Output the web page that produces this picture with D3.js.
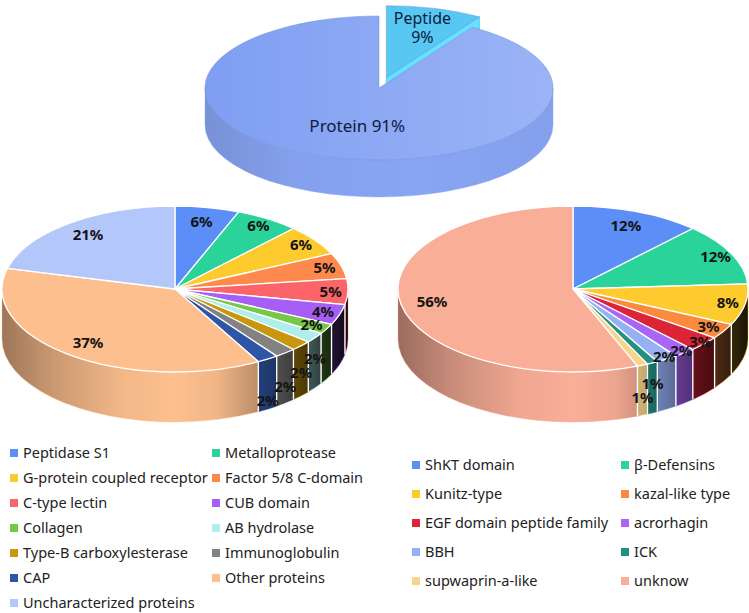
<!DOCTYPE html>
<html>
<head>
<meta charset="utf-8">
<script src="https://cdn.jsdelivr.net/npm/d3@7"></script>
<style>
	body { margin: 0; background: #fff; }
	svg { display: block; font-family: "Noto Sans", "Open Sans", sans-serif; }
	.pct { font-weight: bold; fill: #141414; font-size: 15px; }
	.legend text { font-size: 14.5px; fill: #222; }
</style>
</head>
<body>
<div id="chart"></div>
<script>
// data ///////////////////////////////////////////////////////////////////////
// clockwise from 12 o'clock
var topNames = ['Peptide', 'Protein'];
var topValues = [9, 91];
var topColors = ['#58c8f3', '#88a5f3'];

var proteinNames = ['Peptidase S1', 'Metalloprotease', 'G-protein coupled receptor', 'Factor 5/8 C-domain',
	'C-type lectin', 'CUB domain', 'Collagen', 'AB hydrolase', 'Type-B carboxylesterase', 'Immunoglobulin',
	'CAP', 'Other proteins', 'Uncharacterized proteins'];
var proteinValues = [6, 6, 6, 5, 5, 4, 2, 2, 2, 2, 2, 37, 21];
var proteinColors = ['#5b8ef6', '#2ad39a', '#fdcb2e', '#fd8a4c', '#fb6468', '#a65ef6', '#76c848',
	'#aeefec', '#c8970e', '#828282', '#2f56a6', '#fdbf8e', '#b4c7fb'];

var peptideNames = ['ShKT domain', 'β-Defensins', 'Kunitz-type', 'kazal-like type', 'EGF domain peptide family',
	'acrorhagin', 'BBH', 'ICK', 'supwaprin-a-like', 'unknow'];
var peptideValues = [12, 12, 8, 3, 3, 2, 2, 1, 1, 56];
var peptideColors = ['#5b8ef6', '#2ad39a', '#fdcb2e', '#fb8a3e', '#db2436', '#a865f6', '#96b0f5',
	'#24907f', '#f8d58c', '#f9ae97'];

// setup ///////////////////////////////////////////////////////////////////////
var width = 749, height = 613;
var svg = d3.select('#chart').append('svg')
	.attr('width', width)
	.attr('height', height);
var defs = svg.append('defs');

var pieLayout = d3.pie().sort(null).value(function(d) { return d.value; });

function shadeGradient(id, x0, x1, stops) {
	var grad = defs.append('linearGradient')
		.attr('id', id)
		.attr('gradientUnits', 'userSpaceOnUse')
		.attr('x1', x0).attr('x2', x1).attr('y1', 0).attr('y2', 0);
	stops.forEach(function(s) {
		grad.append('stop').attr('offset', s[0]).attr('stop-color', '#000').attr('stop-opacity', s[1]);
	});
}

function drawPie3d(opts) {
	var g = svg.append('g');
	var data = opts.names.map(function(n, i) { return {name: n, value: opts.values[i], color: opts.colors[i]}; });
	var arcs = pieLayout(data);
	var total = d3.sum(opts.values);
	var rx = opts.rx, ry = opts.ry, depth = opts.depth;

	shadeGradient(opts.id + '-shade', opts.cx - rx, opts.cx + rx, opts.shade);

	arcs.forEach(function(a) {
		var mid = (a.startAngle + a.endAngle) / 2;
		var e = a.index === opts.explode ? opts.explodeBy : 0;
		a.cx = opts.cx + e * rx * Math.sin(mid);
		a.cy = opts.cy - e * ry * Math.cos(mid);
		a.mid = mid;
	});

	function pt(a, ang, k, dy) {
		return [a.cx + k * rx * Math.sin(ang), a.cy - k * ry * Math.cos(ang) + (dy || 0)];
	}

	function topPath(a) {
		var p0 = pt(a, a.startAngle, 1), p1 = pt(a, a.endAngle, 1);
		var large = a.endAngle - a.startAngle > Math.PI ? 1 : 0;
		return 'M' + [a.cx, a.cy] + 'L' + p0 + 'A' + [rx, ry, 0, large, 1] + ' ' + p1 + 'Z';
	}

	// visible outer wall: the front half of the ellipse (pi/2 .. 3pi/2)
	function sidePaths(a) {
		var out = [];
		[[Math.PI / 2, Math.PI], [Math.PI, Math.PI * 1.5]].forEach(function(h) {
			var s = Math.max(a.startAngle, h[0]), e = Math.min(a.endAngle, h[1]);
			if(e - s <= 1e-6) return;
			out.push('M' + pt(a, s, 1) + 'A' + [rx, ry, 0, 0, 1] + ' ' + pt(a, e, 1)
				+ 'L' + pt(a, e, 1, depth) + 'A' + [rx, ry, 0, 0, 0] + ' ' + pt(a, s, 1, depth) + 'Z');
		});
		return out;
	}

	// exploded slices are drawn first, they sit at the back
	var order = arcs.filter(function(a) { return a.index === opts.explode; })
		.concat(arcs.filter(function(a) { return a.index !== opts.explode; }));

	order.forEach(function(a) {
		var sg = g.append('g');
		sidePaths(a).forEach(function(d) {
			sg.append('path').attr('d', d).attr('fill', a.data.color);
			sg.append('path').attr('d', d).attr('fill', 'url(#' + opts.id + '-shade)')
				.attr('stroke', a.data.color).attr('stroke-width', 0.4);
		});
		// wall seam at the slice start
		if(Math.cos(a.startAngle) < -0.02) {
			var s0 = pt(a, a.startAngle, 1);
			sg.append('line')
				.attr('x1', s0[0]).attr('y1', s0[1]).attr('x2', s0[0]).attr('y2', s0[1] + depth)
				.attr('stroke', opts.edge).attr('stroke-width', opts.edgeWidth);
		}
		if(a.index === opts.explode && Math.sin(a.endAngle) > 0) {
			var p = pt(a, a.endAngle, 1);
			sg.append('path')
				.attr('d', 'M' + [a.cx, a.cy] + 'L' + p + 'L' + [p[0], p[1] + depth] + 'L' + [a.cx, a.cy + depth] + 'Z')
				.attr('fill', d3.color(a.data.color).brighter(0.35))
				.attr('stroke', d3.color(a.data.color).darker(0.3)).attr('stroke-width', 0.6);
		}
		sg.append('path')
			.attr('class', 'slice')
			.attr('d', topPath(a))
			.attr('fill', opts.topFill ? opts.topFill(a) : a.data.color)
			.attr('stroke', opts.edge)
			.attr('stroke-width', opts.edgeWidth)
			.attr('stroke-linejoin', 'round');
	});

	if(opts.labels) opts.labels(g, arcs, pt, total);
	return arcs;
}

// percent labels: on top face, small front slices go onto the wall, pushed down when they collide
function pctLabels(sideFrom, depth) {
	return function(g, arcs, pt, total) {
		var placed = [];
		arcs.forEach(function(a) {
			var pct = Math.round(a.data.value / total * 100);
			var front = Math.cos(a.mid) < 0;
			var p;
			if(a.index >= sideFrom && pct <= 2 && front) {
				p = pt(a, a.mid, 1, depth * 0.42);
				placed.forEach(function(q) {
					if(Math.abs(q[0] - p[0]) < 22 && p[1] - q[1] < 14) p[1] = q[1] + 14;
				});
			}
			else {
				var k = Math.cos(a.mid) < -0.55 && Math.sin(a.mid) > 0 ? 0.97 : (Math.sin(a.mid) > 0.5 ? 0.9 : 0.82);
				p = pt(a, a.mid, k);
			}
			placed.push(p);
			g.append('text')
				.attr('class', 'pct')
				.attr('x', p[0])
				.attr('y', p[1])
				.attr('dy', '0.35em')
				.attr('text-anchor', 'middle')
				.text(pct + '%');
		});
	};
}

// top pie ///////////////////////////////////////////////////////////////////////
var protGrad = defs.append('linearGradient').attr('id', 'protTop')
	.attr('x1', 0).attr('x2', 1).attr('y1', 0).attr('y2', 0);
protGrad.append('stop').attr('offset', 0).attr('stop-color', '#7f9ef2');
protGrad.append('stop').attr('offset', 1).attr('stop-color', '#9bb4f6');

drawPie3d({
	id: 'top', names: topNames, values: topValues, colors: topColors,
	cx: 379, cy: 88, rx: 174, ry: 72, depth: 37,
	explode: 0, explodeBy: 0.15,
	edge: '#6f8fe0', edgeWidth: 0.5,
	shade: [[0, 0.12], [0.25, 0.03], [0.6, 0], [1, 0.03]],
	topFill: function(a) { return a.data.name === 'Protein' ? 'url(#protTop)' : a.data.color; },
	labels: function(g, arcs, pt, total) {
		var pep = arcs[0], pro = arcs[1];
		var p = pt(pep, pep.mid, 0.62);
		g.append('text').attr('x', p[0] + 6).attr('y', p[1] - 11)
			.attr('text-anchor', 'middle').attr('fill', '#0c1d3c').style('font-size', '16px')
			.text(pep.data.name);
		g.append('text').attr('x', p[0] + 6).attr('y', p[1] + 8)
			.attr('text-anchor', 'middle').attr('fill', '#0c1d3c').style('font-size', '16px')
			.text(pep.data.value + '%');
		var q = pt(pro, pro.mid, 0.55);
		g.append('text').attr('x', q[0] + 5).attr('y', q[1]).attr('dy', '0.35em')
			.attr('text-anchor', 'middle').attr('fill', '#0c1d3c').style('font-size', '17px')
			.text(pro.data.name + ' ' + pro.data.value + '%');
	}
});

// lower pies /////////////////////////////////////////////////////////////////////
var wallShade = [[0, 0.38], [0.15, 0.2], [0.35, 0.04], [0.5, 0], [0.62, 0.05], [0.75, 0.28], [0.84, 0.52], [0.92, 0.72], [1, 0.9]];

drawPie3d({
	id: 'prot', names: proteinNames, values: proteinValues, colors: proteinColors,
	cx: 175, cy: 289, rx: 173, ry: 83, depth: 50,
	edge: '#fff', edgeWidth: 1.3, shade: wallShade,
	labels: pctLabels(7, 50)
});

drawPie3d({
	id: 'pep', names: peptideNames, values: peptideValues, colors: peptideColors,
	cx: 573, cy: 289, rx: 175, ry: 83, depth: 50,
	edge: '#fff', edgeWidth: 1.3, shade: wallShade,
	labels: pctLabels(7, 50)
});

// legends ///////////////////////////////////////////////////////////////////////
function drawLegend(names, colors, x0, x1, y0, step) {
	var lg = svg.append('g').attr('class', 'legend');
	var items = lg.selectAll('.item')
		.data(names.map(function(n, i) { return {name: n, color: colors[i], i: i}; }))
		.enter().append('g')
		.attr('class', 'item')
		.attr('transform', function(d) {
			return 'translate(' + (d.i % 2 ? x1 : x0) + ',' + (y0 + Math.floor(d.i / 2) * step) + ')';
		});
	items.append('rect')
		.attr('x', 0).attr('y', -4)
		.attr('width', 8).attr('height', 8)
		.attr('fill', function(d) { return d.color; });
	items.append('text')
		.attr('x', 13).attr('y', 0).attr('dy', '0.35em')
		.text(function(d) { return d.name; });
}

drawLegend(proteinNames, proteinColors, 10, 212, 453, 25);
drawLegend(peptideNames, peptideColors, 412, 621, 465, 29);
</script>
</body>
</html>
